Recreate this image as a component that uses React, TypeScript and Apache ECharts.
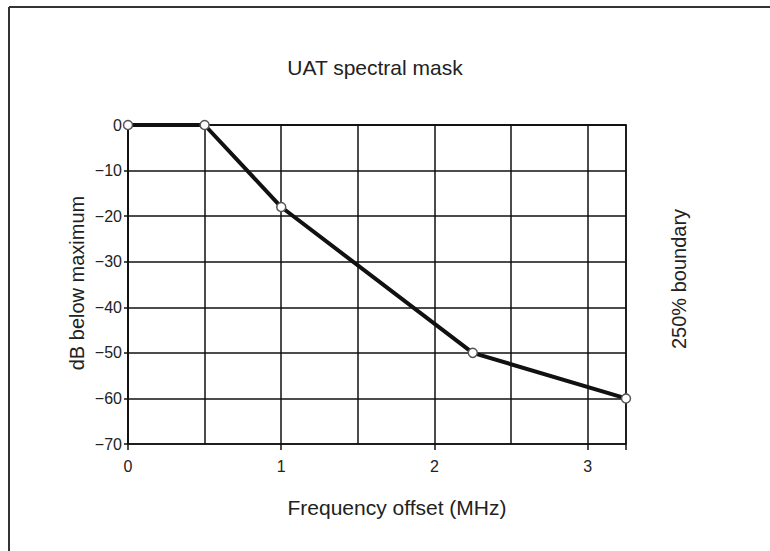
import React, { useEffect, useRef } from "react";
import * as echarts from "echarts";

const freqOffset = [0, 0.5, 1.0, 2.25, 3.25];
const dbBelowMax = [0, 0, -18, -50, -60];
const yTicks = [0, -10, -20, -30, -40, -50, -60, -70];
const xLabelTicks = [0, 1, 2, 3];

const FONT = "Liberation Sans";

export default function App() {
  const ref = useRef<HTMLDivElement>(null);
  useEffect(() => {
    if (!ref.current) return;
    const chart = echarts.init(ref.current, undefined, { renderer: "svg" });
    const data = freqOffset.map((x, i) => [x, dbBelowMax[i]]);
    const tickText = { fontFamily: FONT, fontSize: 16, color: "#222" };
    chart.setOption({
      animation: false,
      backgroundColor: "#ffffff",
      textStyle: { fontFamily: FONT, fontSize: 16, color: "#222" },
      grid: {
        left: 128,
        top: 125,
        width: 498,
        height: 319,
        show: true,
        borderColor: "#111",
        borderWidth: 1.5,
        backgroundColor: "transparent",
      },
      xAxis: [
        {
          type: "value",
          min: 0,
          max: 3.25,
          interval: 0.5,
          axisLine: { show: true, lineStyle: { color: "#111", width: 1.5 } },
          axisTick: { show: false },
          axisLabel: { show: false },
          splitLine: { show: true, lineStyle: { color: "#111", width: 1.5 } },
        },
        {
          type: "value",
          min: 0,
          max: 3.25,
          interval: 1,
          position: "bottom",
          axisLine: { show: false },
          axisTick: { show: true, length: 6, inside: false, lineStyle: { color: "#111", width: 1.5 } },
          axisLabel: {
            show: true,
            margin: 14,
            ...tickText,
            formatter: (v: number) => (xLabelTicks.includes(v) ? String(v) : ""),
          },
          splitLine: { show: false },
        },
      ],
      yAxis: {
        type: "value",
        min: -70,
        max: 0,
        interval: 10,
        axisLine: { show: true, lineStyle: { color: "#111", width: 1.5 } },
        axisTick: { show: true, length: 4, lineStyle: { color: "#111", width: 1.5 } },
        axisLabel: {
          margin: 6,
          ...tickText,
          formatter: (v: number) => (yTicks.includes(v) ? (v < 0 ? "\u2212" + Math.abs(v) : String(v)) : ""),
        },
        splitLine: { show: true, lineStyle: { color: "#111", width: 1.5 } },
      },
      series: [
        {
          type: "line",
          xAxisIndex: 0,
          data,
          symbol: "circle",
          symbolSize: 9,
          lineStyle: { color: "#111", width: 4 },
          itemStyle: { color: "#fff", borderColor: "#555", borderWidth: 1.5 },
          z: 5,
        },
      ],
      graphic: [
        { type: "line", shape: { x1: 9, y1: 7, x2: 770, y2: 7 }, style: { stroke: "#333", lineWidth: 2 } },
        { type: "line", shape: { x1: 9, y1: 7, x2: 9, y2: 551 }, style: { stroke: "#333", lineWidth: 2 } },
        {
          type: "text",
          x: 375,
          y: 67,
          style: { text: "UAT spectral mask", fontFamily: FONT, fontSize: 21, fill: "#222", align: "center", verticalAlign: "middle" },
        },
        {
          type: "text",
          x: 397,
          y: 507,
          style: { text: "Frequency offset (MHz)", fontFamily: FONT, fontSize: 21, fill: "#222", align: "center", verticalAlign: "middle" },
        },
        {
          type: "text",
          x: 77,
          y: 283,
          rotation: Math.PI / 2,
          style: { text: "dB below maximum", fontFamily: FONT, fontSize: 20, fill: "#222", align: "center", verticalAlign: "middle" },
        },
        {
          type: "text",
          x: 679,
          y: 279,
          rotation: Math.PI / 2,
          style: { text: "250% boundary", fontFamily: FONT, fontSize: 20, fill: "#222", align: "center", verticalAlign: "middle" },
        },
      ],
    });
    return () => chart.dispose();
  }, []);
  return <div ref={ref} style={{ position: "fixed", left: 0, top: 0, width: 770, height: 551 }} />;
}
